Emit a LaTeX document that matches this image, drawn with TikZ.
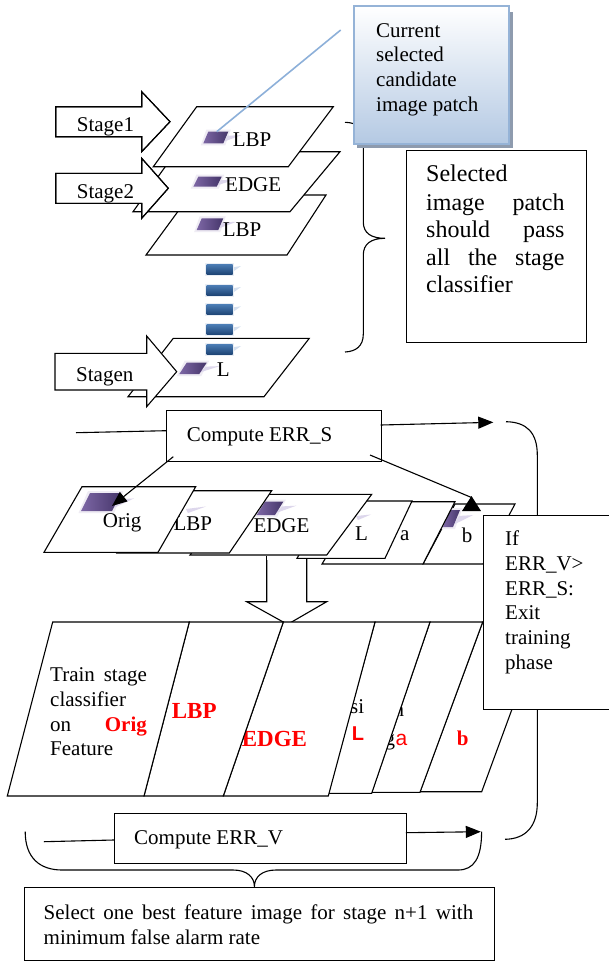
\documentclass[tikz,border=0pt]{standalone}
\usepackage{fontspec}
\setmainfont{Liberation Serif}
\newfontfamily\arialfam{Liberation Sans}
\usetikzlibrary{arrows.meta}

\definecolor{patchdark}{HTML}{45356A}
\definecolor{patchlight}{HTML}{7D67A5}
\definecolor{patchglow}{HTML}{EFECF4}
\definecolor{patchtail}{HTML}{DDD7EC}
\definecolor{dashdark}{HTML}{1F4677}
\definecolor{dashlight}{HTML}{4C7DB5}
\definecolor{dashglow}{HTML}{E9EEF5}
\definecolor{dashtail}{HTML}{D5E0EF}
\definecolor{calloutedge}{HTML}{95B3D7}
\definecolor{calloutbottom}{HTML}{B4C9E3}
\definecolor{shadowblue}{HTML}{8E9BAE}
\definecolor{leaderblue}{HTML}{8DB0D9}

\tikzset{
  boxline/.style={draw=black, line width=1.1pt, line join=miter},
  sheet/.style={boxline, fill=white},
  txt/.style={inner sep=0pt, anchor=base west, font=\fontsize{21}{25}\selectfont},
  bigtxt/.style={inner sep=0pt, anchor=base west, font=\fontsize{24}{28}\selectfont},
  redbold/.style={inner sep=0pt, anchor=base west, text=red, font=\fontsize{23}{26}\selectfont\bfseries},
  lineblk/.style={draw=black, line width=1.1pt},
  flowarrow/.style={draw=black, line width=1.1pt, -{Triangle[length=15pt,width=12pt]}},
}

% purple candidate patch: #1 = bottom-left x, #2 = top y, #3 = width, #4 = height, #5 = skew
\newcommand\ppatch[5]{%
  \fill[patchglow] (#1-2.5,#2+#4+2) -- (#1+#3+2,#2+#4+2) -- (#1+#3+#5+2.5,#2-2) -- (#1+#5-2,#2-2) -- cycle;
  \fill[patchtail] (#1+#3+#5-1,#2+0.35*#4) -- (#1+#3+#5+13,#2+0.3*#4) -- (#1+#3+1,#2+0.85*#4) -- cycle;
  \shade[left color=patchlight, right color=patchdark] (#1,#2+#4) -- (#1+#3,#2+#4) -- (#1+#3+#5,#2) -- (#1+#5,#2) -- cycle;
}
% blue dash of the stage stack: #1 = top y
\newcommand\bdash[1]{%
  \fill[dashglow] (205.2,#1-1.5) rectangle (234.2,#1+11.5);
  \fill[dashtail] (234,#1+3) -- (241,#1+2) -- (234,#1+7) -- cycle;
  \shade[top color=dashlight, bottom color=dashdark] (206.7,#1) rectangle (232.7,#1+10);
}

\begin{document}
\begin{tikzpicture}[x=1pt,y=-1pt]
\useasboundingbox (0,0) rectangle (609,962);

% ================= TOP PART =================
% brace right of the stage stack
\draw[lineblk] (345,122.3) .. controls (357,122.5) and (363.3,128) .. (363.3,142)
  -- (363.3,222) .. controls (363.3,233) and (371,238.3) .. (385,238.3)
  .. controls (371,238.3) and (363.3,244) .. (363.3,255)
  -- (363.3,334) .. controls (363.3,346) and (356,351.5) .. (345,352);

% callout box
\fill[shadowblue] (509,12) rectangle (513,148);
\fill[shadowblue] (357,144) rectangle (513,148);
\shadedraw[top color=white, bottom color=calloutbottom, draw=calloutedge, line width=2pt]
  (354.3,6) rectangle (509.3,144.3);
\node[txt] (cur1) at (376,37.3) {Current};
\node[txt] (cur2) at (376,61.7) {selected};
\node[txt] (cur3) at (376,86.7) {candidate};
\node[txt] (cur4) at (376,111.7) {image patch};

% note box
\node[sheet, anchor=north west, minimum width=179.7pt, minimum height=192.3pt, inner sep=0pt] (selbox) at (406,150) {};
\node[bigtxt] (sel1) at (426,181.7) {Selected};
\node[bigtxt] (sel2) at (426,210) {\makebox[138.3pt][s]{image patch}};
\node[bigtxt] (sel3) at (426,237.3) {\makebox[138.3pt][s]{should pass}};
\node[bigtxt] (sel4) at (426,265) {\makebox[138.3pt][s]{all the stage}};
\node[bigtxt] (sel5) at (426,292.7) {classifier};

% stage sheets (back to front)
\filldraw[sheet] (190,195) -- (326,195) -- (287,255) -- (146,255) -- cycle;
\ppatch{196.7}{218.3}{21.6}{11.7}{5}
\node[txt] (p3t) at (222.7,236.7) {LBP};

\filldraw[sheet] (176,151.7) -- (340,151.7) -- (290,211.7) -- (133,211.7) -- cycle;
\ppatch{193.3}{176.7}{23.4}{10}{5}
\node[txt] (p2t) at (225,191.7) {EDGE};

\filldraw[sheet] (196.7,106.7) -- (333.3,106.7) -- (288.3,166.7) -- (153.3,166.7) -- cycle;
\ppatch{203.3}{131.7}{20}{11.6}{5}
\node[txt] (p1t) at (232.7,146.7) {LBP};

\filldraw[sheet] (173.3,338.3) -- (309.3,338.3) -- (264,396.7) -- (128,396.7) -- cycle;
\ppatch{179.3}{362.7}{20}{11.3}{7.4}
\node[txt] (pnt) at (216.7,376.7) {L};

\bdash{264}
\bdash{285}
\bdash{304.3}
\bdash{324.3}
\bdash{344}

% stage arrows
\filldraw[sheet] (55.7,106.7) -- (141.7,106.7) -- (141.7,91.7) -- (170,121.7) -- (141.7,151.7) -- (141.7,136.7) -- (55.7,136.7) -- cycle;
\begin{scope}
  \clip (55.7,106.7) rectangle (141.7,136.7);
  \node[txt] (st1) at (76.7,131.7) {Stage1};
\end{scope}
\draw[boxline] (55.7,106.7) -- (141.7,106.7) -- (141.7,91.7) -- (170,121.7) -- (141.7,151.7) -- (141.7,136.7) -- (55.7,136.7) -- cycle;

\filldraw[sheet] (55.7,173.3) -- (141.7,173.3) -- (141.7,158.3) -- (168.3,188.3) -- (141.7,218.3) -- (141.7,203.3) -- (55.7,203.3) -- cycle;
\begin{scope}
  \clip (55.7,173.3) rectangle (141.7,203.3);
  \node[txt] (st2) at (76.7,198.3) {Stage2};
\end{scope}
\draw[boxline] (55.7,173.3) -- (141.7,173.3) -- (141.7,158.3) -- (168.3,188.3) -- (141.7,218.3) -- (141.7,203.3) -- (55.7,203.3) -- cycle;

\filldraw[sheet] (55,353.3) -- (146.7,353.3) -- (146.7,336) -- (176.7,371.7) -- (146.7,406.7) -- (146.7,390) -- (55,390) -- cycle;
\node[txt] (stn) at (76,381.7) {Stagen};

% leader line to the callout
\coordinate (patchone) at (216.7,131.7);
\coordinate (calloutend) at (340.7,30);
\draw[leaderblue, line width=1.6pt] (patchone) -- (calloutend);

% ================= MIDDLE PART =================
% Compute ERR_S
\node[sheet, anchor=north west, minimum width=214.7pt, minimum height=50.7pt, inner sep=0pt] (errs) at (166,410) {};
\node[txt] (errst) at (186.7,441.7) {Compute ERR\_S};
\coordinate (errsin) at (76,432.7);
\coordinate (errsleft) at (166,430.7);
\draw[lineblk] (errsin) -- (errsleft);
\coordinate (errsright) at (380.7,425);
\coordinate (loopstart) at (493.3,422.3);
\draw[flowarrow] (errsright) -- (loopstart);

% feedback curve on the right
\coordinate (curvetop) at (506,421.7);
\coordinate (curvebot) at (505,839.3);
\draw[lineblk] (curvetop) .. controls (527,422) and (537.3,433) .. (537.3,455)
  -- (537.3,803) .. controls (537.3,826) and (526,839) .. (curvebot);

% down block arrow
\filldraw[sheet] (266.7,556) -- (266.7,601.7) -- (246.7,601.7) -- (287.5,624.4) -- (326.7,601.7) -- (306.7,601.7) -- (306.7,556);
\fill[white] (267.3,550) rectangle (306.1,560);

% small feature sheets (back to front)
\filldraw[sheet] (455,504) -- (515,504) -- (483,564) -- (423,564) -- cycle;
\ppatch{443}{510}{10}{17}{7}
\node[txt] (sbt) at (461.7,542.7) {b};

\filldraw[sheet] (360,501.7) -- (455,501.7) -- (423,564) -- (322,564) -- cycle;
\node[txt] (sat) at (400,540) {a};

\filldraw[sheet] (330,501) -- (412,501) -- (385,558.3) -- (297,558.3) -- cycle;
\fill[patchtail] (356,516) -- (371,514.5) -- (358,520) -- cycle;
\node[txt] (slt) at (355,540) {L};

\filldraw[sheet] (235,494.3) -- (371.7,494.3) -- (326.7,555) -- (190,555) -- cycle;
\ppatch{256.7}{501.7}{18.3}{13.3}{8.3}
\node[txt] (set) at (253.3,532.7) {EDGE};

\filldraw[sheet] (160,490.7) -- (271.7,490.7) -- (229.3,553) -- (117,553) -- cycle;
\fill[patchtail] (186,509) -- (206,506.5) -- (188,513) -- cycle;
\node[txt] (slbpt) at (173.3,530) {LBP};

\filldraw[sheet] (82,486.7) -- (195.7,486.7) -- (158,552.3) -- (44,552.3) -- cycle;
\ppatch{81}{493}{31}{18}{9}
\node[txt] (sot) at (102.7,527.7) {Orig};

% arrows from Compute ERR_S to the sheets
\coordinate (errsbl) at (173.3,456.7);
\coordinate (origpatch) at (112,506);
\draw[flowarrow] (errsbl) -- (origpatch);
\coordinate (errsbr) at (370,455);
\coordinate (bpatch) at (471.5,497.5);
\draw[lineblk] (errsbr) -- (bpatch);
\fill[black] (462,511) -- (481,511) -- (471.5,496) -- cycle;

% big training sheets (back to front)
\filldraw[sheet] (482.7,622) -- (544,622) -- (481.7,791.7) -- (420,791.7) -- cycle;
\node[inner sep=0pt, anchor=base west, text=red, font=\fontsize{21}{25}\selectfont\bfseries] (bbt) at (456.7,745) {b};

\filldraw[sheet] (430,622) -- (482.7,622) -- (420,792.3) -- (371.7,792.3) -- cycle;
\node[txt] (bnt) at (393.5,716) {n};
\node[txt] (bgt) at (384.5,745) {g};
\node[inner sep=0pt, anchor=base west, text=red, font=\fontsize{21}{25}\selectfont\arialfam] (bat) at (395.5,745) {a};

\filldraw[sheet] (375,622) -- (430,622) -- (371.7,793.3) -- (328.3,793.3) -- cycle;
\node[txt] (bsit) at (350,713) {si};
\node[inner sep=0pt, anchor=base west, text=red, font=\fontsize{20}{24}\selectfont\arialfam\bfseries] (blt) at (351.7,740) {L};

\filldraw[sheet] (283.3,622) -- (375,622) -- (328.3,796) -- (223.3,796) -- cycle;
\node[redbold] (bet) at (241.7,746) {EDGE};

\filldraw[sheet] (189.3,622) -- (283.3,622) -- (223.3,796) -- (144,796) -- cycle;
\node[redbold] (blbpt) at (171.7,718.3) {LBP};

\filldraw[sheet] (52.7,622) -- (189.3,622) -- (144,796) -- (7.3,796) -- cycle;
\node[txt] (tr1) at (50,681.7) {\makebox[96.7pt][s]{Train stage}};
\node[txt] (tr2) at (50,706.7) {classifier};
\node[txt] (tr3) at (50,731.7) {\makebox[96.7pt][s]{on {\bfseries\color{red}Orig}}};
\node[txt] (tr4) at (50,755.7) {Feature};

% decision box
\node[sheet, anchor=north west, minimum width=131pt, minimum height=194pt, inner sep=0pt] (ifbox) at (483.3,515) {};
\node[txt] (if1) at (505,545) {If};
\node[txt] (if2) at (505,570.2) {ERR\_V>};
\node[txt] (if3) at (505,595) {ERR\_S:};
\node[txt] (if4) at (505,619.5) {Exit};
\node[txt] (if5) at (505,644.3) {training};
\node[txt] (if6) at (505,669) {phase};

% ================= BOTTOM PART =================
\node[sheet, anchor=north west, minimum width=292pt, minimum height=50pt, inner sep=0pt] (errv) at (113.8,812.7) {};
\node[txt] (errvt) at (134,844.5) {Compute ERR\_V};
\coordinate (errvin) at (43.9,841.7);
\coordinate (errvleft) at (113.8,840);
\draw[lineblk] (errvin) -- (errvleft);
\coordinate (errvright) at (405.8,832.7);
\coordinate (loopend) at (480.8,831.7);
\draw[flowarrow] (errvright) -- (loopend);

% brace under Compute ERR_V
\draw[lineblk] (25.2,831.7) .. controls (25.2,858) and (40,870) .. (62,870)
  -- (233,870) .. controls (247,870) and (254.4,877) .. (254.4,886.7)
  .. controls (254.4,877) and (262,870) .. (276,870)
  -- (458,870) .. controls (474,870) and (481.6,858) .. (481.6,831.7);

% result box
\node[sheet, anchor=north west, minimum width=470pt, minimum height=73.5pt, inner sep=0pt] (selectbox) at (24,886.7) {};
\node[txt] (res1) at (43.5,919) {\makebox[429.5pt][s]{Select one best feature image for stage n+1 with}};
\node[txt] (res2) at (43.5,944) {minimum false alarm rate};

\end{tikzpicture}
\end{document}
